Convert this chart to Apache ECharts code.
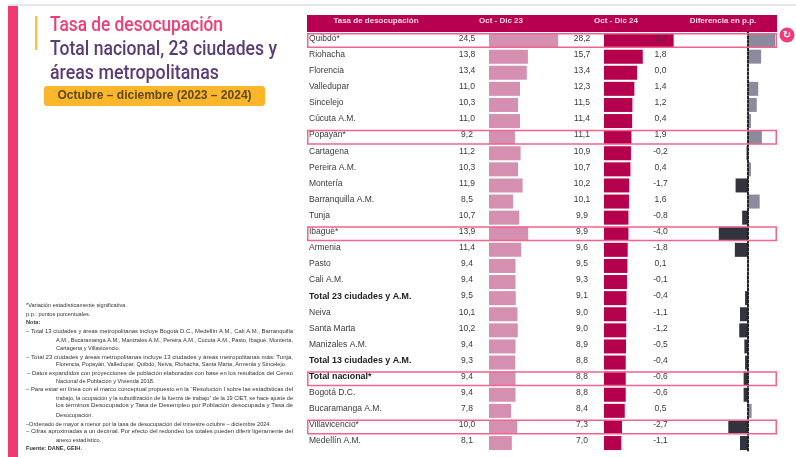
<!DOCTYPE html>
<html><head><meta charset="utf-8">
<style>html,body{margin:0;padding:0;background:#fff}#c{width:796px;height:457px}</style>
<script src="https://cdn.jsdelivr.net/npm/echarts@6/dist/echarts.min.js"></script>
</head><body><div id="c"></div>
<script>
const categories=['Quibdó*','Riohacha','Florencia','Valledupar','Sincelejo','Cúcuta A.M.','Popayán*','Cartagena','Pereira A.M.','Montería','Barranquilla A.M.','Tunja','Ibagué*','Armenia','Pasto','Cali A.M.','Total 23 ciudades y A.M.','Neiva','Santa Marta','Manizales A.M.','Total 13 ciudades y A.M.','Total nacional*','Bogotá D.C.','Bucaramanga A.M.','Villavicencio*','Medellín A.M.'];
const rate2023=[24.5,13.8,13.4,11.0,10.3,11.0,9.2,11.2,10.3,11.9,8.5,10.7,13.9,11.4,9.4,9.4,9.5,10.1,10.2,9.4,9.3,9.4,9.4,7.8,10.0,8.1];
const rate2024=[28.2,15.7,13.4,12.3,11.5,11.4,11.1,10.9,10.7,10.2,10.1,9.9,9.9,9.6,9.5,9.3,9.1,9.0,9.0,8.9,8.8,8.8,8.8,8.4,7.3,7.0];
const diffPP=[3.7,1.8,0.0,1.4,1.2,0.4,1.9,-0.2,0.4,-1.7,1.6,-0.8,-4.0,-1.8,0.1,-0.1,-0.4,-1.1,-1.2,-0.5,-0.4,-0.6,-0.6,0.5,-2.7,-1.1];
const highlighted=['Quibdó*','Popayán*','Ibagué*','Total nacional*','Villavicencio*'];
const boldRows=['Total 23 ciudades y A.M.','Total 13 ciudades y A.M.','Total nacional*'];
const headers=['Tasa de desocupación','Oct - Dic 23','Oct - Dic 24','Diferencia en p.p.'];
const titleLines=['Tasa de desocupación','Total nacional, 23 ciudades y','áreas metropolitanas'];
const badgeText='Octubre – diciembre (2023 – 2024)';
const noteLines=[
'*Variación estadísticamente significativa.',
'p.p.: puntos porcentuales.',
'Nota:',
'– Total 13 ciudades y áreas metropolitanas incluye Bogotá D.C., Medellín A.M., Cali A.M., Barranquilla',
'A.M., Bucaramanga A.M., Manizales A.M., Pereira A.M., Cúcuta A.M., Pasto, Ibagué, Montería,',
'Cartagena y Villavicencio.',
'– Total 23 ciudades y áreas metropolitanas incluye 13 ciudades y áreas metropolitanas más: Tunja,',
'Florencia, Popayán, Valledupar, Quibdó, Neiva, Riohacha, Santa Marta, Armenia y Sincelejo.',
'– Datos expandidos con proyecciones de población elaboradas con base en los resultados del Censo',
'Nacional de Población y Vivienda 2018.',
'– Para estar en línea con el marco conceptual propuesto en la “Resolución I sobre las estadísticas del',
'trabajo, la ocupación y la subutilización de la fuerza de trabajo” de la 19 CIET, se hace ajuste de',
'los términos Desocupados y Tasa de Desempleo por Población desocupada y Tasa de',
'Desocupación.',
'–Ordenado de mayor a menor por la tasa de desocupación del trimestre octubre – diciembre 2024.',
'– Cifras aproximadas a un decimal. Por efecto del redondeo los totales pueden diferir ligeramente del',
'anexo estadístico.',
'Fuente: DANE, GEIH.'];
const fmt=v=>v.toFixed(1).replace('.',',');

/* layout */
const FONT='"Liberation Sans",Arial,sans-serif';
const TITLE_FONT='500 21px Roboto,sans-serif';
const noteX=[26,26,26,26,56,56,26,56,27,56,26,56,56,56,26,26,56,26];
const noteY=[305,314,322,331,340,348,357,364,373,381,389,398,405,415,424,431,440,448];
const noteJustify=[3,4,6,8,10,11,12,15];
const noteBold=[2,17];
const measure=(()=>{const c=document.createElement('canvas').getContext('2d');return (t,f)=>{c.font=f;return c.measureText(t).width;};})();
const TOP=32.5,H=418.6;
const grid=(left,width)=>({left,width,top:TOP,height:H,containLabel:false});
const hiddenX=(i,min,max)=>({type:'value',gridIndex:i,min,max,show:false});
const labelRich={v:{fontFamily:FONT,fontSize:8.5,color:'#3a3a3a',padding:[0,0,4,0]},b:{fontFamily:FONT,fontSize:8.9,fontWeight:'bold',color:'#222',padding:[0,0,4,0]}};
const valueAxis=(i,arr,margin,extra)=>Object.assign({type:'category',gridIndex:i,inverse:true,data:categories,
  axisTick:{show:false},axisLine:{show:false},splitLine:{show:false},
  axisLabel:{show:true,interval:0,margin,align:'center',rich:labelRich,
    formatter:(v,idx)=>'{v|'+fmt(arr[idx])+'}'}},extra||{});
const bar=(i,data,itemStyle)=>({type:'bar',xAxisIndex:i,yAxisIndex:i,data,barWidth:14,itemStyle,silent:true,animation:false});
const chart=echarts.init(document.getElementById('c'),null,{renderer:'canvas'});
const g=[
 {type:'rect',shape:{x:8,y:6,width:10,height:451},style:{fill:'#ef3a72'}},
 {type:'line',shape:{x1:8,y1:5,x2:796,y2:5},style:{stroke:'#cfcfcf',lineWidth:1}},
 {type:'rect',shape:{x:35,y:16,width:2.5,height:34},style:{fill:'#fcc34a'}},
 {type:'rect',shape:{x:44,y:86,width:221,height:20,r:3},style:{fill:'#fbb62b'}},
 {type:'text',x:154.5,y:95.5,style:{text:badgeText,font:'bold 12px '+FONT,fill:'#5c4a1e',align:'center',verticalAlign:'middle'}},
 {type:'rect',shape:{x:307,y:15,width:470,height:17},style:{fill:'#b7004f'}},
 {type:'circle',shape:{cx:787,cy:35,r:7.5},style:{fill:'#ef3d77'}},
 {type:'text',x:787,y:35,style:{text:'↻',font:'bold 10px "DejaVu Sans"',fill:'#fff',align:'center',verticalAlign:'middle'}}
];
[[26,173,'#ef3d77'],[50,227,'#5b3c74'],[74,169,'#5b3c74']].forEach((t,i)=>g.push({type:'text',x:50,y:t[0],scaleX:t[1]/measure(titleLines[i],TITLE_FONT),
  style:{text:titleLines[i],font:TITLE_FONT,fill:t[2],verticalAlign:'middle'}}));
[376,501,616,723].forEach((x,i)=>g.push({type:'text',x,y:21,style:{text:headers[i],font:'bold 8px '+FONT,fill:'#f4dbe6',align:'center',verticalAlign:'middle'}}));
noteLines.forEach((t,i)=>{
  const font=(noteBold.includes(i)?'bold ':'')+'5.6px '+FONT;
  const sx=noteJustify.includes(i)?(293-noteX[i])/measure(t,font):1;
  g.push({type:'text',x:noteX[i],y:noteY[i],scaleX:sx,style:{text:t,font,fill:'#333',verticalAlign:'middle'}});
});
chart.setOption({
 animation:false,backgroundColor:'#fff',
 grid:[grid(489,112.8),grid(604,98.8),grid(711.5,73),grid(307,470)],
 xAxis:[hiddenX(0,0,40),hiddenX(1,0,40),hiddenX(2,-5,5),hiddenX(3,0,1)],
 yAxis:[
  valueAxis(0,rate2023,22),
  valueAxis(1,rate2024,22),
  valueAxis(2,diffPP,51,{z:5,axisLine:{show:true,onZero:true,lineStyle:{color:'#222',type:[2,2],width:2}}}),
  {type:'category',gridIndex:3,inverse:true,data:categories,axisTick:{show:false},axisLine:{show:false},
   axisLabel:{show:true,inside:true,interval:0,margin:2,align:'left',rich:labelRich,
    formatter:v=>boldRows.includes(v)?'{b|'+v+'}':'{v|'+v+'}'}}
 ],
 series:[
  bar(0,rate2023,{color:'#d58fb0'}),
  bar(1,rate2024,{color:'#b5004e'}),
  bar(2,diffPP,{color:p=>p.value<0?'#33333d':'#8b8b9d'}),
  Object.assign(bar(3,categories.map(c=>highlighted.includes(c)?1:null),{color:'rgba(0,0,0,0)',borderColor:'#f0648e',borderWidth:1.5}),{barWidth:15,z:6})
 ],
 graphic:g
});
</script></body></html>
